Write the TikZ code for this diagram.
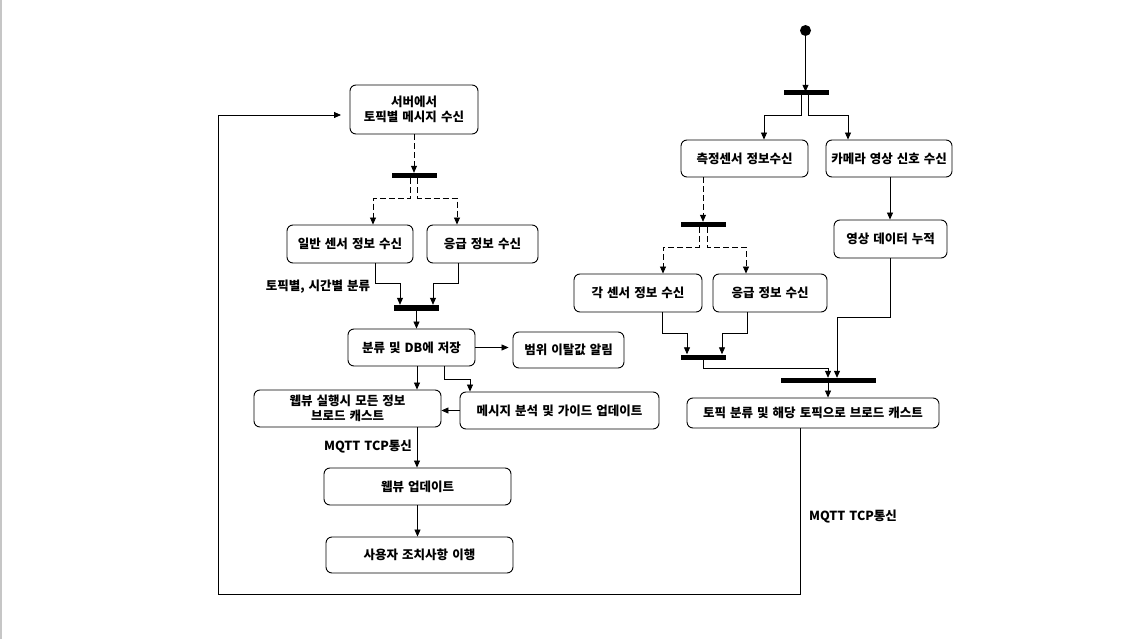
\documentclass[tikz,border=0pt]{standalone}
\usepackage{fontspec}
\setmainfont{Noto Sans CJK KR}[WordSpace=1.4]
\usetikzlibrary{arrows.meta,calc}
\begin{document}
\begin{tikzpicture}[x=1pt,y=-1pt,
  box/.style={draw,rounded corners=6pt,line width=0.9pt,inner sep=0pt,align=center,
    font=\fontsize{12.5}{14.5}\selectfont\bfseries},
  bar/.style={fill=black,inner sep=0pt,minimum height=5pt},
  arr/.style={line width=0.8pt,-{Triangle[length=7pt,width=6pt]}},
  darr/.style={arr,dash pattern=on 6pt off 3pt},
  lbl/.style={font=\fontsize{12.5}{14.5}\selectfont\bfseries,inner sep=0pt}]
\useasboundingbox (0,0) rectangle (1148,639);
\fill[white] (0,0) rectangle (1148,639);
\draw[gray!45,line width=1.5pt] (0.75,0) -- (0.75,639);
% left column
\node[box,minimum width=128pt,minimum height=49pt] (srv) at (414,109.5) {서버에서\\토픽별 메시지 수신};
\node[bar,minimum width=45pt] (bar1) at (414.5,175.5) {};
\node[box,minimum width=126pt,minimum height=38pt] (gen) at (350,244) {일반 센서 정보 수신};
\node[box,minimum width=111pt,minimum height=38pt] (emg1) at (482.5,244) {응급 정보 수신};
\node[bar,minimum width=45pt,minimum height=6pt] (bar2) at (416.5,308) {};
\node[box,minimum width=127pt,minimum height=37pt] (cls) at (411.5,347.5) {분류 및 DB에 저장};
\node[box,minimum width=111pt,minimum height=36pt] (rng) at (568.5,350) {범위 이탈값 알림};
\node[box,minimum width=187pt,minimum height=37pt] (web) at (347.5,408.5) {웹뷰 실행시 모든 정보\\브로드 캐스트};
\node[box,minimum width=199pt,minimum height=37pt] (msg) at (559.5,410.5) {메시지 분석 및 가이드 업데이트};
\node[box,minimum width=187pt,minimum height=37pt] (upd) at (417.5,486.5) {웹뷰 업데이트};
\node[box,minimum width=187pt,minimum height=36pt] (usr) at (419.5,555) {사용자 조치사항 이행};
\node[lbl] (l1) at (318,287) {토픽별, 시간별 분류};
\node[lbl] (l2) at (368,447) {MQTT TCP통신};
% right column
\node[circle,fill=black,inner sep=0pt,minimum size=11pt] (start) at (805.5,30.5) {};
\node[bar,minimum width=45pt] (bar3) at (806.5,92.5) {};
\node[box,minimum width=127pt,minimum height=37pt] (meas) at (744.5,158.5) {측정센서 정보수신};
\node[box,minimum width=126pt,minimum height=37pt] (cam) at (889,158.5) {카메라 영상 신호 수신};
\node[bar,minimum width=45pt] (bar4) at (703.5,224.5) {};
\node[box,minimum width=113pt,minimum height=38pt] (vid) at (890.5,239) {영상 데이터 누적};
\node[box,minimum width=128pt,minimum height=38pt] (each) at (638,293) {각 센서 정보 수신};
\node[box,minimum width=114pt,minimum height=38pt] (emg2) at (770,293) {응급 정보 수신};
\node[bar,minimum width=45pt] (bar5) at (703.5,357) {};
\node[bar,minimum width=95pt] (bar6) at (828.5,380.5) {};
\node[box,minimum width=252pt,minimum height=30pt] (top) at (813,413) {토픽 분류 및 해당 토픽으로 브로드 캐스트};
\node[lbl] (l3) at (853,517) {MQTT TCP통신};
\coordinate (loopend) at (341,115);
% connectors left
\draw[arr] ([xshift=-13pt]top.south) -- (800,594) -- (218,594) -- (218,115) -- (loopend);
\draw[darr] (srv.south) -- (srv.south |- bar1.north);
\draw[darr] ([xshift=-4pt]bar1.south) -- ++(0,20) -| ([xshift=23pt]gen.north);
\draw[darr] ([xshift=3pt]bar1.south) -- ++(0,20) -| ([xshift=-25.5pt]emg1.north);
\draw[arr] ([xshift=25pt]gen.south) -- ++(0,20) -| ([xshift=-16.5pt]bar2.north);
\draw[arr] ([xshift=-24.5pt]emg1.south) -- ++(0,20) -| ([xshift=16.5pt]bar2.north);
\draw[arr] (bar2.south) -- (bar2.south |- cls.north);
\draw[arr] (cls.east) -- ([xshift=-4pt]cls.east -| rng.west);
\draw[arr] ([xshift=5.5pt]cls.south) -- ([xshift=5.5pt]cls.south |- web.north);
\draw[arr] ([xshift=32.5pt]cls.south) -- ++(0,13) -| ([xshift=-89.5pt]msg.north);
\draw[arr] (msg.west) -- (msg.west -| web.east);
\draw[arr] ([xshift=69.5pt]web.south) -- ([xshift=69.5pt]web.south |- upd.north);
\draw[arr] (upd.south) -- (upd.south |- usr.north);
% connectors right
\draw[arr] (start.south) -- ([yshift=-2pt]start.south |- bar3.north);
\draw[arr] ([xshift=-4.8pt]bar3.south) -- ++(0,20) -| ([xshift=19.5pt]meas.north);
\draw[arr] ([xshift=1.8pt]bar3.south) -- ++(0,20) -| ([xshift=-41pt]cam.north);
\draw[darr] ([xshift=-41.5pt]meas.south) -- ([xshift=-41.5pt]meas.south |- bar4.north);
\draw[darr] ([xshift=-4.5pt]bar4.south) -- ++(0,20) -| ([xshift=25pt]each.north);
\draw[darr] ([xshift=3.5pt]bar4.south) -- ++(0,20) -| ([xshift=-24pt]emg2.north);
\draw[arr] ([xshift=1pt]cam.south) -- ([xshift=1pt]cam.south |- vid.north);
\draw[arr] ([xshift=24pt]each.south) -- ++(0,21) -| ([xshift=-16.5pt]bar5.north);
\draw[arr] ([xshift=-23pt]emg2.south) -- ++(0,21) -| ([xshift=18.5pt]bar5.north);
\draw[arr] (bar5.south) -- ++(0,9) -| ([xshift=-0.5pt]bar6.north);
\draw[arr] ([xshift=-0.5pt]vid.south) -- ++(0,59) -| ([xshift=8.5pt]bar6.north);
\draw[arr] ([xshift=-0.5pt]bar6.south) -- ([xshift=-0.5pt]bar6.south |- top.north);
\end{tikzpicture}
\end{document}
